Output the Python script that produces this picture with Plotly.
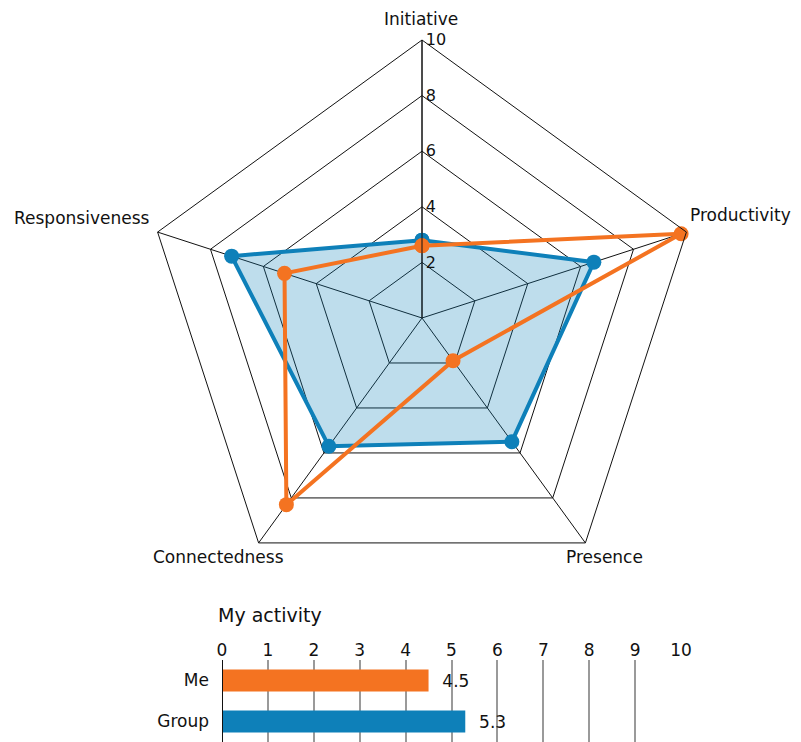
import plotly.graph_objects as go

categories = ["Initiative", "Productivity", "Presence", "Connectedness", "Responsiveness"]
group_values = [2.8, 6.5, 5.5, 5.7, 7.2]
me_values = [2.6, 9.8, 1.9, 8.3, 5.2]

bar_labels = ["Me", "Group"]
bar_values = [4.5, 5.3]

radial_ticks = [2, 4, 6, 8, 10]
bar_ticks = list(range(0, 11))

BLUE = "#0e80b9"
ORANGE = "#f47321"
FONT = "DejaVu Sans"
W, H = 801, 742
# page body margin offsets the figure; compensate
OX, OY = 8, 8


def fx(px):
    return (px - OX) / W


def fy(py):
    return 1 - (py - OY) / H


# polar geometry (pixels) used only for layout placement
CX, CY, R = 422, 318, 278

fig = go.Figure()

fig.add_trace(go.Scatterpolar(
    r=group_values + group_values[:1],
    theta=categories + categories[:1],
    mode="lines+markers",
    fill="toself",
    fillcolor="rgba(14,128,185,0.27)",
    line=dict(color=BLUE, width=4),
    marker=dict(color=BLUE, size=15),
    showlegend=False,
))
fig.add_trace(go.Scatterpolar(
    r=me_values + me_values[:1],
    theta=categories + categories[:1],
    mode="lines+markers",
    line=dict(color=ORANGE, width=4),
    marker=dict(color=ORANGE, size=15),
    showlegend=False,
))

fig.add_trace(go.Bar(
    x=bar_values,
    y=bar_labels,
    orientation="h",
    marker=dict(color=[ORANGE, BLUE], line=dict(width=0)),
    texttemplate="\u00a0\u00a0%{x}",
    textposition="outside",
    textfont=dict(size=17, color="#111"),
    cliponaxis=False,
    xaxis="x", yaxis="y",
    showlegend=False,
))

label_pos = {
    "Initiative": (421, 19, "center"),
    "Productivity": (688, 215, "left"),
    "Presence": (604, 557, "center"),
    "Connectedness": (219, 557, "center"),
    "Responsiveness": (152, 218, "right"),
}
annotations = []
for cat in categories:
    px, py, anc = label_pos[cat]
    annotations.append(dict(text=cat, xref="paper", yref="paper",
                            x=fx(px), y=fy(py), xanchor=anc, yanchor="middle",
                            showarrow=False, font=dict(size=17, color="#111")))
annotations.append(dict(text="My activity", xref="paper", yref="paper",
                        x=fx(216), y=fy(615), xanchor="left", yanchor="middle",
                        showarrow=False, font=dict(size=19, color="#111")))

fig.update_layout(
    width=W, height=H,
    margin=dict(l=0, r=0, t=0, b=0, autoexpand=False),
    paper_bgcolor="white",
    plot_bgcolor="white",
    font=dict(family=FONT, size=16, color="#111"),
    polar=dict(
        domain=dict(x=[fx(CX - R), fx(CX + R)], y=[fy(CY + R), fy(CY - R)]),
        gridshape="linear",
        bgcolor="white",
        radialaxis=dict(
            range=[0, 10],
            tickvals=radial_ticks,
            showline=True, linecolor="#111", linewidth=1,
            gridcolor="#111", gridwidth=1,
            angle=90, tickangle=90,
            ticks="",
            tickfont=dict(size=16, color="#111"),
        ),
        angularaxis=dict(
            rotation=90, direction="clockwise",
            linecolor="#111", linewidth=1,
            gridcolor="#111", gridwidth=1,
            ticks="",
            showticklabels=False,
        ),
    ),
    xaxis=dict(
        domain=[fx(222), fx(681)],
        range=[0, 10],
        side="top",
        tickvals=bar_ticks,
        showgrid=True, gridcolor="#9a9a9a", gridwidth=2,
        zeroline=False,
        showline=False,
        ticks="",
        tickfont=dict(size=17, color="#111"),
        anchor="y",
        automargin=False,
    ),
    yaxis=dict(
        domain=[fy(742), fy(660)],
        autorange="reversed",
        showgrid=False,
        ticks="",
        ticklabelstandoff=12,
        tickfont=dict(size=17, color="#111"),
        anchor="x",
        automargin=False,
    ),
    bargap=0.46,
    shapes=[dict(type="line", xref="x", yref="paper", x0=0, x1=0, y0=fy(742), y1=fy(660),
                 line=dict(color="#111", width=2))],
    annotations=annotations,
)

fig.write_html("out.html")
